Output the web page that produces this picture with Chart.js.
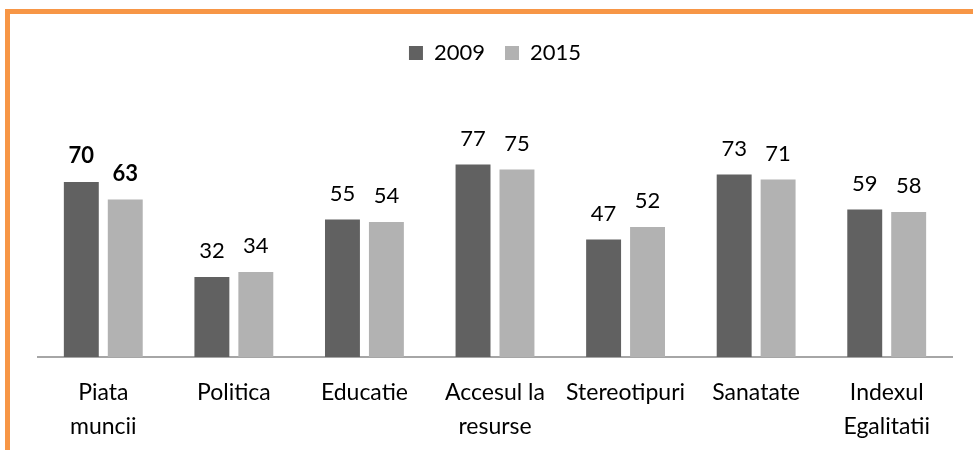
<!DOCTYPE html>
<html>
<head>
<meta charset="utf-8">
<script src="https://cdn.jsdelivr.net/npm/chart.js@4.4.1/dist/chart.umd.min.js"></script>
<style>
  html, body { margin: 0; padding: 0; background: #fff; }
  #wrap { position: relative; width: 973px; height: 450px; overflow: hidden; }
  #frame { position: absolute; left: 5px; top: 9px; width: 1000px; height: 500px; border-top: 5px solid #f79646; border-left: 5px solid #f79646; }
  #chart { position: absolute; left: 0; top: 0; }
</style>
</head>
<body>
<div id="wrap">
  <div id="frame"></div>
  <canvas id="chart" width="973" height="450"></canvas>
</div>
<script>
const categories = [["Piata", "muncii"], "Politica", "Educatie", ["Accesul la", "resurse"], "Stereotipuri", "Sanatate", ["Indexul", "Egalitatii"]];
const values2009 = [70, 32, 55, 77, 47, 73, 59];
const values2015 = [63, 34, 54, 75, 52, 71, 58];
const seriesLabels = ["2009", "2015"];
const boldIndex = 0;

const FONT = "Lato, 'Open Sans', sans-serif";

// value labels above bars (no datalabels plugin offline)
const valueLabels = {
  id: "valueLabels",
  afterDatasetsDraw(chart) {
    const ctx = chart.ctx;
    ctx.save();
    ctx.fillStyle = "#000";
    ctx.textAlign = "center";
    ctx.textBaseline = "alphabetic";
    chart.data.datasets.forEach((ds, di) => {
      chart.getDatasetMeta(di).data.forEach((bar, i) => {
        ctx.font = (i === boldIndex ? "bold " : "") + "22px " + FONT;
        ctx.fillText(String(ds.data[i]), bar.x, bar.y - 19);
      });
    });
    ctx.restore();
  }
};

const canvas = document.getElementById("chart");
new Chart(canvas, {
  type: "bar",
  data: {
    labels: categories,
    datasets: [
      { label: seriesLabels[0], data: values2009, backgroundColor: "#616161" },
      { label: seriesLabels[1], data: values2015, backgroundColor: "#b2b2b2" }
    ]
  },
  options: {
    responsive: false,
    animation: false,
    layout: { padding: { left: 38, right: 21, top: 22, bottom: 0 } },
    datasets: { bar: { categoryPercentage: 0.673, barPercentage: 0.795 } },
    plugins: {
      legend: {
        position: "top",
        labels: { boxWidth: 14, boxHeight: 14, padding: 20, color: "#000", font: { family: FONT, size: 22 } }
      },
      tooltip: { enabled: false }
    },
    scales: {
      x: {
        grid: { display: false },
        border: { display: true, color: "#a6a6a6", width: 2 },
        ticks: { color: "#000", padding: 10, font: { family: FONT, size: 23, lineHeight: 1.5 }, maxRotation: 0, autoSkip: false },
        afterFit(scale) { scale.height = 93; }
      },
      y: { display: false, min: 0, max: 113.2 }
    }
  },
  plugins: [valueLabels]
});
</script>
</body>
</html>
